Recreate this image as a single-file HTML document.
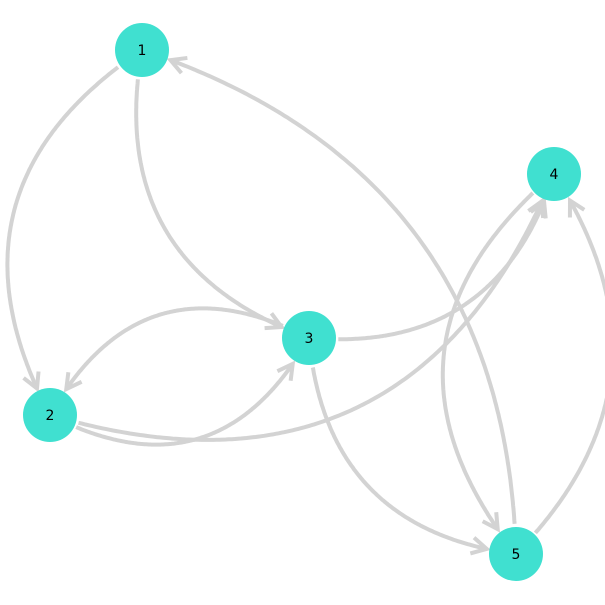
<!DOCTYPE html>
<html><head><meta charset="utf-8"><style>
html,body{margin:0;padding:0;background:#fff;}
svg{display:block;font-family:"DejaVu Sans","Liberation Sans",sans-serif;}
</style></head><body>
<svg id="chart" width="605" height="605" viewBox="0 0 605 605">
<g id="edges"></g>
<g id="nodes"></g>
</svg>
<script>
const nodeIds = ["1","2","3","4","5"];
const nodeX = [142, 50, 309, 554, 516];
const nodeY = [50, 415, 338, 174, 554];
const edgeFrom = ["1","1","3","2","2","3","4","5","3","5"];
const edgeTo   = ["2","3","2","3","4","4","5","1","5","4"];
const edgeRad  = [-0.45,-0.42,-0.48,-0.48,-0.45,-0.4,-0.48,-0.35,-0.4,-0.4];

const R = 27;
const NS = "http://www.w3.org/2000/svg";
const eg = document.getElementById('edges');
const ng = document.getElementById('nodes');
function pos(id){const i=nodeIds.indexOf(id);return [nodeX[i],nodeY[i]];}
function bez(p0,c,p1,t){const u=1-t;return [u*u*p0[0]+2*u*t*c[0]+t*t*p1[0], u*u*p0[1]+2*u*t*c[1]+t*t*p1[1]];}

for(let e=0;e<edgeFrom.length;e++){
  const a=pos(edgeFrom[e]), b=pos(edgeTo[e]);
  const dx=b[0]-a[0], dy=b[1]-a[1];
  const k=edgeRad[e];
  const c=[(a[0]+b[0])/2 + k*dy, (a[1]+b[1])/2 - k*dx];
  const pts=[];
  for(let i=0;i<=200;i++){
    const p=bez(a,c,b,i/200);
    if(Math.hypot(p[0]-a[0],p[1]-a[1])<R+1) continue;
    if(Math.hypot(p[0]-b[0],p[1]-b[1])<R+2) continue;
    pts.push(p);
  }
  const path=document.createElementNS(NS,'path');
  
  
  path.setAttribute('d','M'+pts.map(p=>p[0].toFixed(1)+','+p[1].toFixed(1)).join(' L'));
  path.setAttribute('fill','none');path.setAttribute('stroke','#d3d3d3');path.setAttribute('stroke-width','4');
  eg.appendChild(path);
  const tip=pts[pts.length-1], prev=pts[Math.max(0,pts.length-6)];
  const ang=Math.atan2(tip[1]-prev[1],tip[0]-prev[0]);
  const al=17, aw=0.5;
  const p1=[tip[0]-al*Math.cos(ang-aw), tip[1]-al*Math.sin(ang-aw)];
  const p2=[tip[0]-al*Math.cos(ang+aw), tip[1]-al*Math.sin(ang+aw)];
  const arr=document.createElementNS(NS,'path');
  
  
  arr.setAttribute('d','M'+p1.join(',')+' L'+tip.join(',')+' L'+p2.join(','));
  arr.setAttribute('fill','none');arr.setAttribute('stroke','#d3d3d3');arr.setAttribute('stroke-width','4');
  eg.appendChild(arr);
}
for(let i=0;i<nodeIds.length;i++){
  const c=document.createElementNS(NS,'circle');
  
  
  c.setAttribute('cx',nodeX[i]);c.setAttribute('cy',nodeY[i]);c.setAttribute('r',R);
  c.setAttribute('fill','#40e0d0');
  ng.appendChild(c);
  const t=document.createElementNS(NS,'text');
  
  
  t.setAttribute('x',nodeX[i]);t.setAttribute('y',nodeY[i]+5);
  t.setAttribute('text-anchor','middle');t.setAttribute('font-size','14');
  t.textContent=nodeIds[i];
  ng.appendChild(t);
}
</script>
</body></html>
